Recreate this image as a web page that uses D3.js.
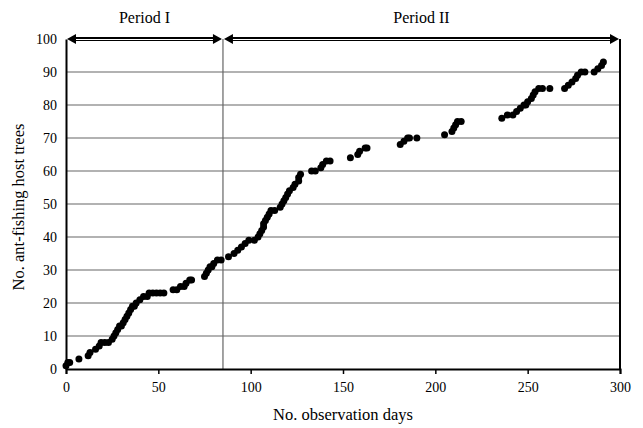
<!DOCTYPE html>
<html><head><meta charset="utf-8">
<script src="https://cdn.jsdelivr.net/npm/d3@7"></script>
<style>
html,body{margin:0;padding:0;background:#fff;}
svg text{font-family:"Liberation Serif","Times New Roman",serif;fill:#000;}
</style></head>
<body><svg id="c" width="643" height="428"></svg>
<script>
// Observation day of each point
const days = [0,1,2,7,12,13,16,18,19,21,23,25,26,27,28,29,30,31,32,33,34,35,36,37,38,40,42,44,45,47,49,51,53,58,60,62,64,65,67,68,75,76,77,78,79,80,82,84,
88,91,93,95,97,99,102,104,105,106,107,107,108,109,110,111,113,116,117,118,119,120,121,123,124,126,126,127,133,135,138,139,141,143,154,158,159,162,163,181,183,185,186,190,205,209,210,211,212,214,236,239,242,244,246,248,249,250,252,253,254,256,258,262,270,272,274,276,277,279,281,286,288,290,291];
// Cumulative number of ant-fishing host trees at each point
const counts = [1,2,2,3,4,5,6,7,8,8,8,9,10,11,12,13,13,14,15,16,17,18,19,19,20,21,22,22,23,23,23,23,23,24,24,25,25,26,27,27,28,29,30,31,31,32,33,33,
34,35,36,37,38,39,39,40,41,42,43,44,45,46,47,48,48,49,50,51,52,53,54,55,56,57,58,59,60,60,61,62,63,63,64,65,66,67,67,68,69,70,70,70,71,72,73,74,75,75,76,77,77,78,79,80,80,81,82,83,84,85,85,85,85,86,87,88,89,90,90,90,91,92,93];
const xTicks = [0,50,100,150,200,250,300];
const yTicks = [0,10,20,30,40,50,60,70,80,90,100];
const periodLabels = ["Period I","Period II"];
const periodBounds = [0,85,300];
const xTitle = "No. observation days";
const yTitle = "No. ant-fishing host trees";

const svg = d3.select("#c");
const L=66, R=620, T=39, B=369;
const x = d3.scaleLinear().domain([0,300]).range([L,R]);
const y = d3.scaleLinear().domain([0,100]).range([B,T]);

// gridlines
svg.append("g").selectAll("line").data(yTicks.filter(d=>d>0&&d<100)).join("line")
  .attr("x1",L).attr("x2",R).attr("y1",d=>y(d)).attr("y2",d=>y(d))
  .attr("stroke","#666").attr("stroke-width",1.2);
// period divider
svg.append("line").attr("x1",x(periodBounds[1])).attr("x2",x(periodBounds[1]))
  .attr("y1",T).attr("y2",B).attr("stroke","#666").attr("stroke-width",1.2);
// right border
svg.append("line").attr("x1",R).attr("x2",R).attr("y1",T).attr("y2",B)
  .attr("stroke","#000").attr("stroke-width",2);

// axes
const xAxis = svg.append("g").attr("transform",`translate(0,${B})`)
  .call(d3.axisBottom(x).tickValues(xTicks).tickSize(5).tickPadding(8));
const yAxis = svg.append("g").attr("transform",`translate(${L},0)`)
  .call(d3.axisLeft(y).tickValues(yTicks).tickSize(0).tickPadding(9));
[xAxis,yAxis].forEach(g=>{
  g.select(".domain").attr("stroke","#000").attr("stroke-width",2);
  g.selectAll(".tick line").attr("stroke","#000").attr("stroke-width",1.5);
  g.selectAll("text").style("font-family","'Liberation Serif',serif").style("font-size","14px").attr("fill","#000");
});

// points
svg.append("g").selectAll("circle").data(days.map((d,i)=>[d,counts[i]])).join("circle")
  .attr("cx",d=>x(d[0])).attr("cy",d=>y(d[1])).attr("r",3.5).attr("fill","#000");

// period arrows
const ay = T;
for(let i=0;i<2;i++){
  const x0 = x(periodBounds[i])+1, x1 = x(periodBounds[i+1])-1;
  const g = svg.append("g");
  g.append("line").attr("x1",x0+4).attr("x2",x1-4).attr("y1",ay).attr("y2",ay).attr("stroke","#000").attr("stroke-width",4);
  g.append("line").attr("x1",x0+6).attr("x2",x1-6).attr("y1",ay+0.5).attr("y2",ay+0.5).attr("stroke","#fff").attr("stroke-width",1);
  g.append("path").attr("d",`M${x0},${ay} L${x0+9},${ay-5} L${x0+9},${ay+5} Z`).attr("fill","#000");
  g.append("path").attr("d",`M${x1},${ay} L${x1-9},${ay-5} L${x1-9},${ay+5} Z`).attr("fill","#000");
  svg.append("text").attr("x",(x0+x1)/2).attr("y",23).attr("text-anchor","middle")
    .style("font-size","16px").text(periodLabels[i]);
}

// titles
svg.append("text").attr("x",(L+R)/2).attr("y",420).attr("text-anchor","middle").style("font-size","16.5px").text(xTitle);
svg.append("text").attr("transform",`translate(24,${(T+B)/2+3}) rotate(-90)`).attr("text-anchor","middle").style("font-size","16.5px").text(yTitle);
</script></body></html>
